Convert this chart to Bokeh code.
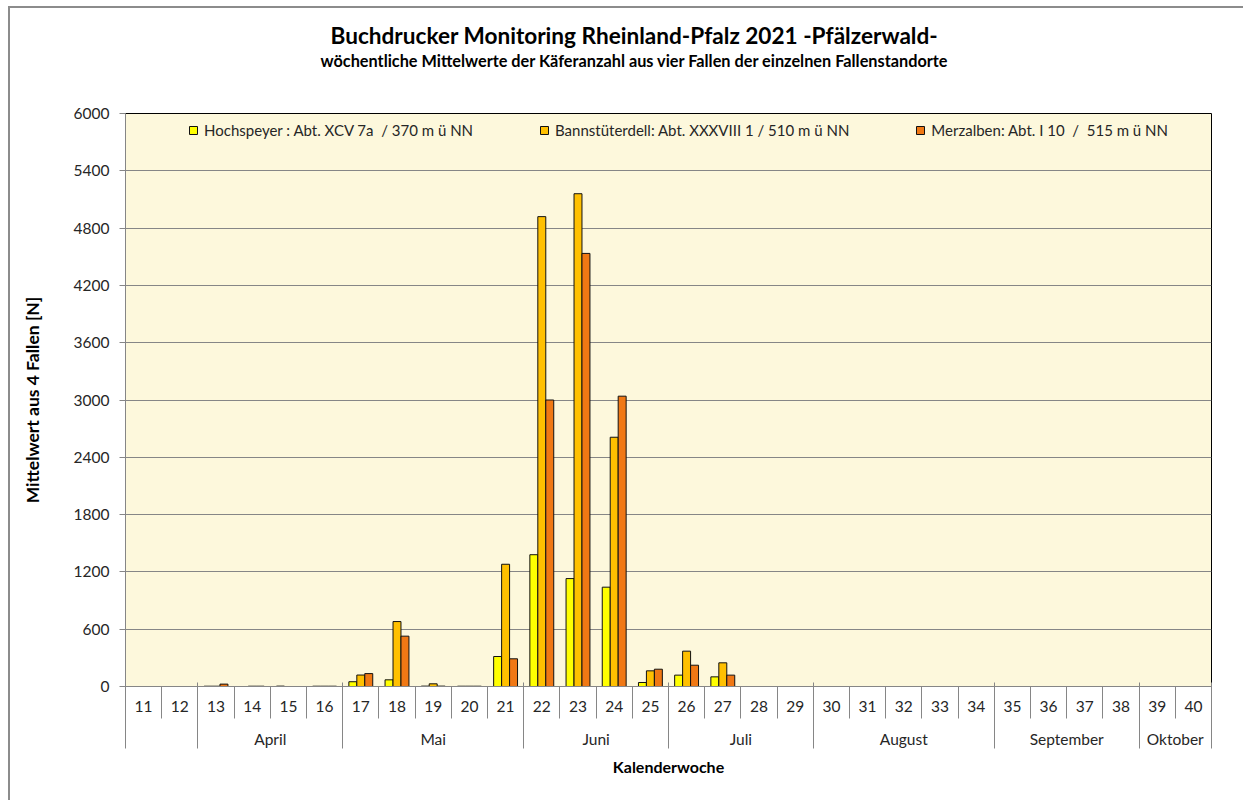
from bokeh.plotting import figure
from bokeh.models import (Range1d, FixedTicker, LinearAxis, Legend, LegendItem,
                          Title, Grid)
from bokeh.embed import file_html
from bokeh.resources import INLINE

nan = float("nan")

# ---------------- data ----------------
weeks = [11, 12, 13, 14, 15, 16, 17, 18, 19, 20, 21, 22, 23, 24, 25,
         26, 27, 28, 29, 30, 31, 32, 33, 34, 35, 36, 37, 38, 39, 40]
week_labels = ["11", "12", "13", "14", "15", "16", "17", "18", "19", "20",
               "21", "22", "23", "24", "25", "26", "27", "28", "29", "30",
               "31", "32", "33", "34", "35", "36", "37", "38", "39", "40"]
months = ["April", "Mai", "Juni", "Juli", "August", "September", "Oktober"]
month_first_week = [13, 17, 22, 26, 30, 35, 39]
month_last_week = [16, 21, 25, 29, 34, 38, 40]

series_names = ["Hochspeyer : Abt. XCV 7a  / 370 m ü NN",
                "Bannstüterdell: Abt. XXXVIII 1 / 510 m ü NN",
                "Merzalben: Abt. I 10  /  515 m ü NN"]
hochspeyer = [nan, nan, 3, nan, 4, 3, 50, 70, 4, 3, 314, 1380, 1130, 1040, 42,
              119, 101, nan, nan, nan, nan, nan, nan, nan, nan, nan, nan, nan, nan, nan]
bannstuterdell = [nan, nan, 3, 3, nan, 3, 120, 680, 28, 3, 1280, 4920, 5160, 2610, 164,
                  370, 248, nan, nan, nan, nan, nan, nan, nan, nan, nan, nan, nan, nan, nan]
merzalben = [nan, nan, 25, 3, nan, 3, 135, 527, 4, 3, 290, 3000, 4535, 3040, 181,
             223, 119, nan, nan, nan, nan, nan, nan, nan, nan, nan, nan, nan, nan, nan]
y_ticks = [0, 600, 1200, 1800, 2400, 3000, 3600, 4200, 4800, 5400, 6000]

title_text = "Buchdrucker Monitoring  Rheinland-Pfalz 2021    -Pfälzerwald-"
subtitle_text = "wöchentliche Mittelwerte der Käferanzahl  aus vier Fallen der einzelnen Fallenstandorte"
y_label = "Mittelwert aus 4 Fallen [N]"
x_label = "Kalenderwoche"

# ---------------- style ----------------
colors = ["#FFFF00", "#FFC000", "#F07814"]
FONT = "Lato"
GRAY = "#868686"
TXT = "#262626"
bar_w = 0.22
offsets = [-bar_w, 0.0, bar_w]

FRAME_W, FRAME_H = 1086, 573
x_lo, x_hi = weeks[0] - 0.5, weeks[-1] + 0.5
y_lo, y_hi = y_ticks[0], y_ticks[-1]

p = figure(x_range=Range1d(x_lo, x_hi), y_range=Range1d(y_lo, y_hi),
           frame_width=FRAME_W, frame_height=FRAME_H,
           min_border_left=115, min_border_top=105, min_border_right=32,
           min_border_bottom=114,
           output_backend="svg", toolbar_location=None, title=None,
           x_axis_type=None, y_axis_type=None,
           background_fill_color="#FDF8DC", border_fill_color="white",
           outline_line_color="black", outline_line_width=1)
p.styles = {"margin-left": "8px", "margin-top": "6px",
            "border-left": "2px solid #8c8c8c", "border-top": "2px solid #8c8c8c"}

# bars
renderers = []
for vals, col, off in zip([hochspeyer, bannstuterdell, merzalben], colors, offsets):
    xs = [w + off for w in weeks]
    r = p.vbar(x=xs, top=vals, bottom=0, width=bar_w, fill_color=col,
               line_color="#111111", line_width=1)
    renderers.append(r)

# grid
p.add_layout(Grid(dimension=1, ticker=FixedTicker(ticks=y_ticks),
                  grid_line_color=GRAY, grid_line_width=1))

# y axis
yax = LinearAxis(ticker=FixedTicker(ticks=y_ticks), axis_label=y_label,
                 axis_line_color=GRAY, major_tick_line_color=GRAY,
                 major_tick_out=6, major_tick_in=0, minor_tick_line_color=None,
                 minor_tick_out=0, minor_tick_in=0,
                 major_label_standoff=10, major_label_text_font=FONT,
                 major_label_text_font_size="15.5px", major_label_text_color=TXT,
                 axis_label_text_font=FONT, axis_label_text_font_size="17.5px",
                 axis_label_text_font_style="bold", axis_label_text_color="black",
                 axis_label_standoff=28)
p.add_layout(yax, "left")

# week axis
week_bounds = [w - 0.5 for w in weeks] + [weeks[-1] + 0.5]
wax = LinearAxis(ticker=FixedTicker(ticks=weeks, minor_ticks=week_bounds),
                 major_label_overrides={w: l for w, l in zip(weeks, week_labels)},
                 axis_line_color=GRAY, major_tick_line_color=None,
                 major_tick_out=0, major_tick_in=0,
                 minor_tick_line_color=GRAY, minor_tick_out=32, minor_tick_in=0,
                 major_label_standoff=-18, major_label_text_font=FONT,
                 major_label_text_font_size="15.5px", major_label_text_color=TXT)
p.add_layout(wax, "below")

# month axis
month_bounds = [weeks[0] - 0.5, month_first_week[0] - 0.5] + [l + 0.5 for l in month_last_week]
month_centers = [(f + l) / 2 for f, l in zip(month_first_week, month_last_week)]
max_ = LinearAxis(ticker=FixedTicker(ticks=month_centers, minor_ticks=month_bounds),
                  major_label_overrides={c: m for c, m in zip(month_centers, months)},
                  axis_line_color=None, major_tick_line_color=None,
                  major_tick_out=0, major_tick_in=0,
                  minor_tick_line_color=GRAY, minor_tick_in=32, minor_tick_out=34,
                  major_label_standoff=-19, major_label_text_font=FONT,
                  major_label_text_font_size="15.5px", major_label_text_color=TXT,
                  axis_label=x_label, axis_label_text_font=FONT,
                  axis_label_text_font_size="16px", axis_label_text_font_style="bold",
                  axis_label_text_color="black", axis_label_standoff=6)
p.add_layout(max_, "below")

# legend (bottom-left corner given in frame pixels)
legend = Legend(items=[LegendItem(label=n, renderers=[r]) for n, r in zip(series_names, renderers)],
                orientation="horizontal", location=(63, 547),
                border_line_color=None, background_fill_alpha=0,
                label_text_font=FONT, label_text_font_size="15px", label_text_color=TXT,
                glyph_width=10, glyph_height=10, label_standoff=6, spacing=66,
                padding=0, margin=0)
p.add_layout(legend)

# titles: subtitle first (closest to the frame), then main title
p.add_layout(Title(text=subtitle_text, align="left", offset=195, standoff=0,
                   padding={"top": 0, "right": 0, "bottom": 44, "left": 0},
                   text_font=FONT, text_font_size="16.3px", text_font_style="bold",
                   text_color="black"), "above")
p.add_layout(Title(text=title_text, align="left", offset=205, standoff=0,
                   text_font=FONT, text_font_size="22.6px", text_font_style="bold",
                   text_color="black"), "above")

open("out.html", "w").write(file_html(p, INLINE))
